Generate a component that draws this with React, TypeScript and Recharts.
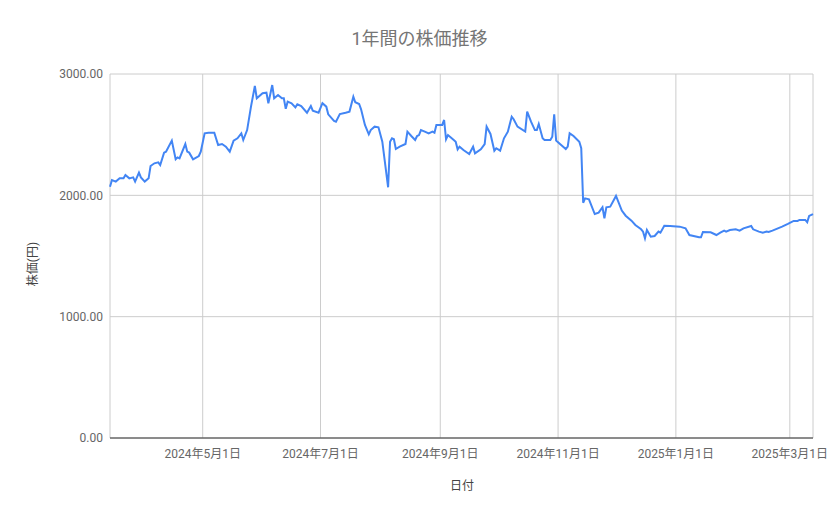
import { CartesianGrid, Line, LineChart, XAxis, YAxis } from "recharts";

const dates = [
  "2024-03-14", "2024-03-15", "2024-03-17", "2024-03-19", "2024-03-21", "2024-03-22", "2024-03-24", "2024-03-26",
  "2024-03-27", "2024-03-29", "2024-03-30", "2024-04-01", "2024-04-03", "2024-04-04", "2024-04-06", "2024-04-08",
  "2024-04-09", "2024-04-11", "2024-04-12", "2024-04-15", "2024-04-17", "2024-04-18", "2024-04-19", "2024-04-22",
  "2024-04-23", "2024-04-24", "2024-04-26", "2024-04-29", "2024-04-30", "2024-05-02", "2024-05-04", "2024-05-07",
  "2024-05-09", "2024-05-11", "2024-05-13", "2024-05-15", "2024-05-17", "2024-05-19", "2024-05-21", "2024-05-22",
  "2024-05-24", "2024-05-26", "2024-05-28", "2024-05-29", "2024-06-01", "2024-06-03", "2024-06-04", "2024-06-06",
  "2024-06-07", "2024-06-09", "2024-06-11", "2024-06-12", "2024-06-13", "2024-06-14", "2024-06-16", "2024-06-18",
  "2024-06-19", "2024-06-21", "2024-06-24", "2024-06-26", "2024-06-27", "2024-06-30", "2024-07-02", "2024-07-04",
  "2024-07-05", "2024-07-08", "2024-07-09", "2024-07-11", "2024-07-14", "2024-07-16", "2024-07-18", "2024-07-19",
  "2024-07-21", "2024-07-22", "2024-07-24", "2024-07-26", "2024-07-27", "2024-07-29", "2024-07-31", "2024-08-02",
  "2024-08-05", "2024-08-06", "2024-08-07", "2024-08-08", "2024-08-09", "2024-08-11", "2024-08-14", "2024-08-15",
  "2024-08-17", "2024-08-19", "2024-08-20", "2024-08-21", "2024-08-22", "2024-08-24", "2024-08-26", "2024-08-28",
  "2024-08-29", "2024-08-30", "2024-09-02", "2024-09-03", "2024-09-04", "2024-09-05", "2024-09-08", "2024-09-09",
  "2024-09-10", "2024-09-11", "2024-09-13", "2024-09-16", "2024-09-18", "2024-09-19", "2024-09-22", "2024-09-24",
  "2024-09-25", "2024-09-27", "2024-09-29", "2024-09-30", "2024-10-02", "2024-10-04", "2024-10-06", "2024-10-08",
  "2024-10-09", "2024-10-11", "2024-10-15", "2024-10-16", "2024-10-18", "2024-10-20", "2024-10-21", "2024-10-22",
  "2024-10-24", "2024-10-25", "2024-10-28", "2024-10-29", "2024-10-30", "2024-10-31", "2024-11-02", "2024-11-05",
  "2024-11-06", "2024-11-07", "2024-11-09", "2024-11-12", "2024-11-13", "2024-11-14", "2024-11-15", "2024-11-17",
  "2024-11-20", "2024-11-22", "2024-11-24", "2024-11-25", "2024-11-26", "2024-11-28", "2024-12-01", "2024-12-04",
  "2024-12-06", "2024-12-09", "2024-12-11", "2024-12-14", "2024-12-15", "2024-12-16", "2024-12-17", "2024-12-19",
  "2024-12-21", "2024-12-23", "2024-12-24", "2024-12-26", "2024-12-29", "2025-01-03", "2025-01-06", "2025-01-08",
  "2025-01-13", "2025-01-14", "2025-01-15", "2025-01-19", "2025-01-22", "2025-01-24", "2025-01-26", "2025-01-27",
  "2025-01-29", "2025-02-01", "2025-02-03", "2025-02-05", "2025-02-09", "2025-02-10", "2025-02-13", "2025-02-15",
  "2025-02-17", "2025-02-18", "2025-02-20", "2025-02-25", "2025-02-28", "2025-03-03", "2025-03-05", "2025-03-06",
  "2025-03-09", "2025-03-10", "2025-03-11", "2025-03-13",
];

const prices = [
  2071, 2126, 2113, 2140, 2140, 2168, 2140, 2148,
  2113, 2187, 2148, 2113, 2140, 2242, 2264, 2272,
  2250, 2352, 2360, 2451, 2297, 2313, 2305, 2423,
  2360, 2352, 2297, 2324, 2360, 2511, 2516, 2516,
  2415, 2423, 2401, 2360, 2451, 2470, 2511, 2456,
  2538, 2731, 2901, 2800, 2841, 2846, 2759, 2909,
  2800, 2827, 2800, 2800, 2713, 2772, 2759, 2725,
  2750, 2736, 2681, 2736, 2698, 2681, 2759, 2731,
  2668, 2613, 2607, 2670, 2681, 2690, 2813, 2767,
  2753, 2709, 2580, 2503, 2538, 2566, 2561, 2442,
  2066, 2442, 2470, 2462, 2382, 2401, 2423, 2525,
  2489, 2456, 2489, 2497, 2538, 2525, 2511, 2525,
  2516, 2580, 2580, 2621, 2462, 2497, 2456, 2442,
  2379, 2401, 2374, 2341, 2401, 2346, 2379, 2423,
  2566, 2506, 2368, 2388, 2368, 2470, 2525, 2648,
  2627, 2566, 2525, 2690, 2607, 2538, 2538, 2588,
  2470, 2456, 2456, 2483, 2668, 2451, 2423, 2382,
  2401, 2511, 2489, 2442, 2388, 1939, 1975, 1967,
  1846, 1857, 1901, 1811, 1901, 1907, 1995, 1874,
  1832, 1791, 1756, 1720, 1701, 1646, 1714, 1659,
  1665, 1701, 1692, 1750, 1747, 1742, 1728, 1673,
  1654, 1654, 1698, 1695, 1673, 1692, 1709, 1701,
  1714, 1720, 1709, 1728, 1747, 1720, 1701, 1692,
  1701, 1698, 1709, 1742, 1764, 1789, 1789, 1797,
  1797, 1778, 1830, 1846,
];

const xTicks = ["2024-05-01", "2024-07-01", "2024-09-01", "2024-11-01", "2025-01-01", "2025-03-01"];
const yTicks = [0, 1000, 2000, 3000];

const FONT = "Roboto, 'Noto Sans CJK JP', sans-serif";

const data = dates.map((d, i) => ({ t: Date.parse(d), price: prices[i] }));

const fmtDate = (t: number) => {
  const d = new Date(t);
  return `${d.getUTCFullYear()}年${d.getUTCMonth() + 1}月${d.getUTCDate()}日`;
};

export default function App() {
  return (
    <div
      style={{
        position: "absolute",
        left: 0,
        top: 0,
        width: 839,
        height: 519,
        background: "#fff",
        fontFamily: FONT,
      }}
    >
      <div
        style={{
          position: "absolute",
          top: 28,
          left: 0,
          width: 839,
          textAlign: "center",
          fontSize: 18,
          lineHeight: "22px",
          color: "#757575",
        }}
      >
        1年間の株価推移
      </div>

      <LineChart width={839} height={519} data={data} margin={{ top: 74, right: 26, bottom: 51, left: 0 }}>
        <CartesianGrid stroke="#cccccc" />
        <XAxis
          dataKey="t"
          type="number"
          scale="time"
          domain={[Date.parse(dates[0]), Date.parse(dates[dates.length - 1])]}
          ticks={xTicks.map((d) => Date.parse(d))}
          tickFormatter={fmtDate}
          interval={0}
          height={30}
          tickLine={false}
          tickMargin={5}
          axisLine={{ stroke: "#333333" }}
          tick={{ fontSize: 12, fill: "#666666", fontFamily: FONT }}
        />
        <YAxis
          type="number"
          domain={[0, 3000]}
          ticks={yTicks}
          tickFormatter={(v: number) => v.toFixed(2)}
          width={110}
          axisLine={false}
          tickLine={false}
          tickMargin={1}
          tick={{ fontSize: 12, fill: "#666666", fontFamily: FONT }}
        />
        <Line
          type="linear"
          dataKey="price"
          stroke="#4285f4"
          strokeWidth={2}
          dot={false}
          isAnimationActive={false}
        />
      </LineChart>

      <div
        style={{
          position: "absolute",
          left: 33,
          top: 264,
          transform: "translate(-50%, -50%) rotate(-90deg)",
          whiteSpace: "nowrap",
          fontSize: 12,
          lineHeight: 1,
          color: "#444444",
        }}
      >
        株価(円)
      </div>
      <div
        style={{
          position: "absolute",
          left: 462,
          top: 486,
          transform: "translate(-50%, -50%)",
          whiteSpace: "nowrap",
          fontSize: 12,
          lineHeight: 1,
          color: "#444444",
        }}
      >
        日付
      </div>
    </div>
  );
}
